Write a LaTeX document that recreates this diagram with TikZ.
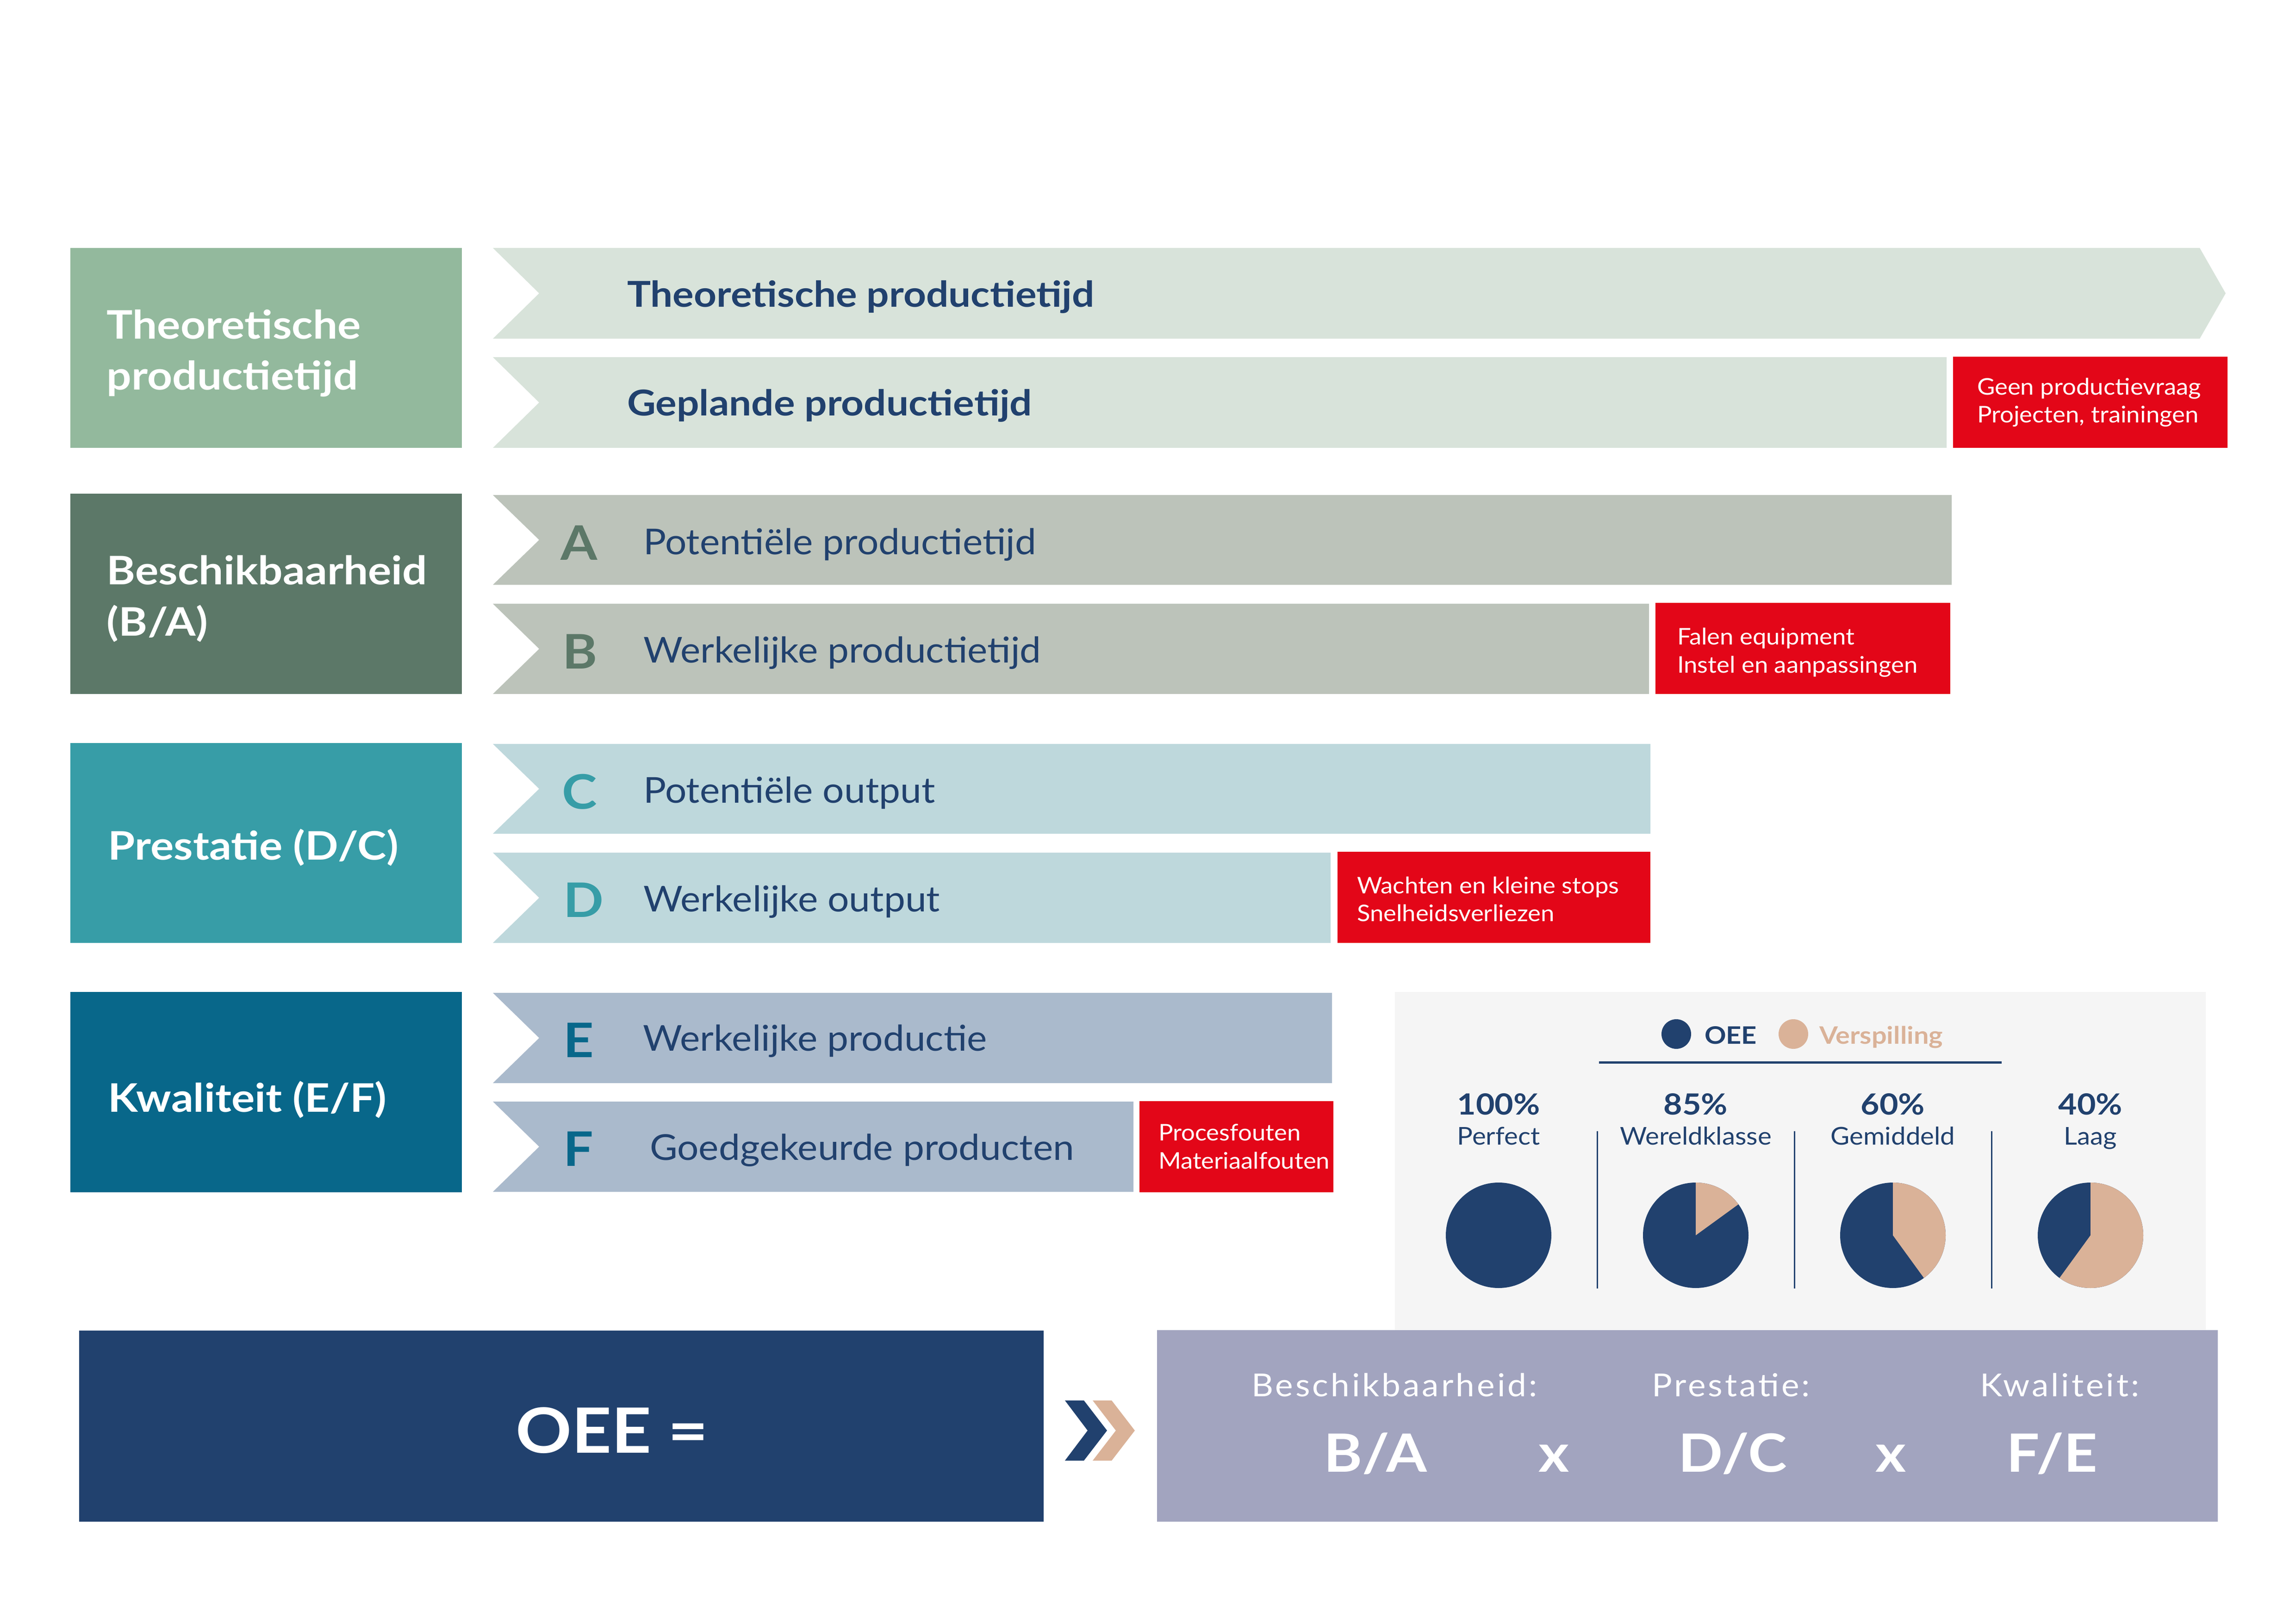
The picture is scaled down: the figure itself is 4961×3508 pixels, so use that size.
\documentclass[tikz,border=0pt]{standalone}
\usepackage{fontspec}
\setmainfont{Lato}[FakeStretch=1.065]
\newfontfamily\wbold{Lato}[FakeStretch=1.11]
\definecolor{cBoxA}{HTML}{93B99D}
\definecolor{cBoxB}{HTML}{5C7868}
\definecolor{cBoxC}{HTML}{379DA7}
\definecolor{cBoxD}{HTML}{08678A}
\definecolor{cBand1}{HTML}{D8E3DA}
\definecolor{cBand2}{HTML}{BCC3BA}
\definecolor{cBand3}{HTML}{BED8DC}
\definecolor{cBand4}{HTML}{AABACC}
\definecolor{cRed}{HTML}{E30618}
\definecolor{cNavy}{HTML}{21416E}
\definecolor{cTan}{HTML}{DAB298}
\definecolor{cForm}{HTML}{A2A4BF}
\definecolor{cPanel}{HTML}{F5F5F5}
\newcommand\oeeband[4]{\fill[#4] (1065,#2) -- (#1,#2) -- (#1,#3) -- (1065,#3) -- (1165,{(#2+#3)/2}) -- cycle;}
\begin{document}
\begin{tikzpicture}[x=0.1pt,y=-0.1pt,
  txt/.style={anchor=base west, inner sep=0pt, outer sep=0pt},
  ctxt/.style={anchor=base, inner sep=0pt, outer sep=0pt},
  boxtitle/.style={txt, text=white, font=\fontsize{8.5pt}{10pt}\wbold\bfseries},
  bandtext/.style={txt, text=cNavy, font=\fontsize{7.7pt}{9pt}\selectfont},
  bandbold/.style={txt, text=cNavy, font=\fontsize{7.7pt}{9pt}\wbold\bfseries},
  letter/.style={txt, font=\fontsize{10.3pt}{12pt}\wbold\bfseries},
  redtext/.style={txt, text=white, font=\fontsize{4.95pt}{6pt}\selectfont},
  pct/.style={ctxt, text=cNavy, font=\fontsize{6.3pt}{7pt}\wbold\bfseries},
  pctlabel/.style={ctxt, text=cNavy, font=\fontsize{5.3pt}{6pt}\selectfont},
  legend/.style={txt, font=\fontsize{5.2pt}{6pt}\wbold\bfseries},
  formlabel/.style={txt, text=white, font=\fontsize{6.85pt}{8pt}\selectfont\addfontfeature{LetterSpace=7.3}},
  formbig/.style={txt, text=white, font=\fontsize{11.4pt}{13pt}\wbold\bfseries},
  formx/.style={ctxt, text=white, font=\fontsize{11.4pt}{13pt}\wbold\bfseries},
  divider/.style={cNavy, line width=0.3pt}
]
\fill[white] (0,0) rectangle (4961,3508);
\useasboundingbox (0,0) rectangle (4961,3508);

% left category boxes
\fill[cBoxA] (152,536) rectangle (998,968);
\fill[cBoxB] (152,1067) rectangle (998,1500);
\fill[cBoxC] (152,1606) rectangle (998,2038);
\fill[cBoxD] (152,2144) rectangle (998,2577);
\node[boxtitle] (t1a) at (231,733) {Theoretische};
\node[boxtitle] (t1b) at (231,843) {productietijd};
\node[boxtitle] (t2a) at (231,1264) {Beschikbaarheid};
\node[boxtitle] (t2b) at (231,1374) {(B/A)};
\node[boxtitle] (t3) at (234,1858) {Prestatie (D/C)};
\node[boxtitle] (t4) at (234,2403) {Kwaliteit (E/F)};

% bands
\fill[cBand1] (1065,536) -- (4753,536) -- (4809,634) -- (4753,732) -- (1065,732) -- (1165,634) -- cycle;
\oeeband{4206}{772}{968}{cBand1}
\oeeband{4217}{1070}{1264}{cBand2}
\oeeband{3563}{1305}{1500}{cBand2}
\oeeband{3566}{1608}{1802}{cBand3}
\oeeband{2875}{1843}{2038}{cBand3}
\oeeband{2878}{2146}{2341}{cBand4}
\oeeband{2449}{2381}{2576}{cBand4}

% red loss boxes
\fill[cRed] (4220,771) rectangle (4813,968);
\fill[cRed] (3577,1303) rectangle (4214,1500);
\fill[cRed] (2890,1841) rectangle (3566,2038);
\fill[cRed] (2462,2380) rectangle (2881,2577);

% band texts
\node[bandbold] (b1) at (1355,664) {Theoretische productietijd};
\node[bandbold] (b2) at (1355,899) {Geplande productietijd};
\node[letter, text=cBoxB] (lA) at (1211,1211) {A};
\node[bandtext] (bA) at (1390,1199) {Potentiële productietijd};
\node[letter, text=cBoxB] (lB) at (1215,1446) {B};
\node[bandtext] (bB) at (1390,1432) {Werkelijke productietijd};
\node[letter, text=cBoxC] (lC) at (1214,1748) {C};
\node[bandtext] (bC) at (1390,1735) {Potentiële output};
\node[letter, text=cBoxC] (lD) at (1217,1982) {D};
\node[bandtext] (bD) at (1390,1970) {Werkelijke output};
\node[letter, text=cBoxD] (lE) at (1217,2285) {E};
\node[bandtext] (bE) at (1389,2271) {Werkelijke productie};
\node[letter, text=cBoxD] (lF) at (1217,2520) {F};
\node[bandtext] (bF) at (1404,2507) {Goedgekeurde producten};

% red texts
\node[redtext] (r1a) at (4272,854) {Geen productievraag};
\node[redtext] (r1b) at (4272,914) {Projecten, trainingen};
\node[redtext] (r2a) at (3624,1394) {Falen equipment};
\node[redtext] (r2b) at (3624,1454) {Instel en aanpassingen};
\node[redtext] (r3a) at (2932,1932) {Wachten en kleine stops};
\node[redtext] (r3b) at (2932,1991) {Snelheidsverliezen};
\node[redtext] (r4a) at (2503,2465) {Procesfouten};
\node[redtext] (r4b) at (2503,2526) {Materiaalfouten};

% pie panel
\fill[cPanel] (3014,2144) rectangle (4766,2875);
\fill[cNavy] (3622,2235) circle[radius=32];
\node[legend, text=cNavy] (lgOEE) at (3683,2256) {OEE};
\fill[cTan] (3875,2235) circle[radius=32];
\node[legend, text=cTan] (lgV) at (3931,2256) {Verspilling};
\draw[cNavy, line width=0.5pt] (3455,2296) -- (4325,2296);

\node[pct] (p1) at (3238,2409) {100\%};
\node[pctlabel] (q1) at (3238,2474) {Perfect};
\node[pct] (p2) at (3664,2409) {85\%};
\node[pctlabel] (q2) at (3664,2474) {Wereldklasse};
\node[pct] (p3) at (4090,2409) {60\%};
\node[pctlabel] (q3) at (4090,2474) {Gemiddeld};
\node[pct] (p4) at (4517,2409) {40\%};
\node[pctlabel] (q4) at (4517,2474) {Laag};

\draw[divider] (3451,2445) -- (3451,2785);
\draw[divider] (3877,2445) -- (3877,2785);
\draw[divider] (4303,2445) -- (4303,2785);

\fill[cNavy] (3238,2670) circle[radius=114];
\fill[cNavy] (3664,2670) circle[radius=114];
\fill[cTan] (3664,2670) -- ++(-90:114) arc[start angle=-90, end angle=-36, radius=114] -- cycle;
\fill[cNavy] (4090,2670) circle[radius=114];
\fill[cTan] (4090,2670) -- ++(-90:114) arc[start angle=-90, end angle=54, radius=114] -- cycle;
\fill[cNavy] (4517,2670) circle[radius=114];
\fill[cTan] (4517,2670) -- ++(-90:114) arc[start angle=-90, end angle=126, radius=114] -- cycle;

% bottom formula
\fill[cNavy] (171,2876) rectangle (2255,3289);
\node[txt, text=white, font=\fontsize{13.5pt}{15pt}\wbold\bfseries] (oee) at (1114,3140) {OEE =};
\fill[cNavy] (2301,3027) -- (2342,3027) -- (2392,3092) -- (2342,3157) -- (2301,3157) -- (2350,3092) -- cycle;
\fill[cTan] (2361,3027) -- (2402,3027) -- (2452,3092) -- (2402,3157) -- (2361,3157) -- (2411,3092) -- cycle;
\fill[cForm] (2500,2875) rectangle (4792,3289);
\node[formlabel] (f1) at (2704,3018) {Beschikbaarheid:};
\node[formlabel] (f2) at (3569,3018) {Prestatie:};
\node[formlabel] (f3) at (4278,3018) {Kwaliteit:};
\node[formbig] (g1) at (2860,3181) {B/A};
\node[formx] (x1) at (3358,3181) {x};
\node[formbig] (g2) at (3626,3181) {D/C};
\node[formx] (x2) at (4086,3181) {x};
\node[formbig] (g3) at (4335,3181) {F/E};
\end{tikzpicture}
\end{document}
